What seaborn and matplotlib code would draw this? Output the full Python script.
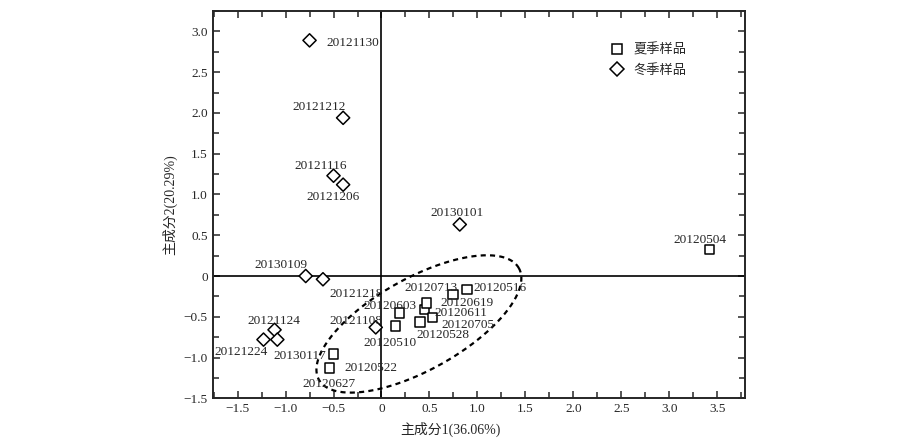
#!/usr/bin/env python3
"""PCA score plot: summer vs winter samples, with a dashed ellipse round the summer group."""

import matplotlib.pyplot as plt
import numpy as np
import pandas as pd
import seaborn as sns
from matplotlib.ticker import FuncFormatter, MultipleLocator

# ── DATA ──
summer_ids = [
    "20120504", "20120510", "20120516", "20120522", "20120528", "20120603",
    "20120611", "20120619", "20120627", "20120705", "20120713",
]
summer_pc1 = [3.42, 0.146, 0.893, -0.497, 0.40, 0.19, 0.448, 0.466, -0.539, 0.534, 0.747]
summer_pc2 = [0.325, -0.615, -0.164, -0.955, -0.566, -0.455, -0.413, -0.332, -1.127, -0.512, -0.225]

winter_ids = [
    "20121108", "20121116", "20121124", "20121130", "20121206", "20121212",
    "20121218", "20121224", "20130101", "20130109", "20130117",
]
winter_pc1 = [-0.06, -0.50, -1.115, -0.75, -0.40, -0.40, -0.61, -1.23, 0.816, -0.79, -1.086]
winter_pc2 = [-0.63, 1.23, -0.66, 2.89, 1.12, 1.94, -0.04, -0.78, 0.632, 0.0, -0.78]

season_names = ["夏季样品", "冬季样品"]

# dashed ellipse round the summer cluster: centre and two conjugate semi-axes (data units)
ellipse_center = (0.39, -0.588)
ellipse_u = (1.043, 0.683)
ellipse_v = (-0.231, 0.493)

# label placement relative to each point, in pixels (layout only)
label_offsets = {
    "20121130": (43, -3), "20121212": (-24, 11), "20121116": (-13, 10),
    "20121206": (-10, -12), "20130101": (-3, 11), "20130109": (-25, 11),
    "20121218": (33, -15), "20121108": (-20, 6), "20121124": (-1, 9),
    "20121224": (-22, -12), "20130117": (22, -16),
    "20120504": (-10, 10), "20120510": (-5, -17), "20120516": (33, 1),
    "20120522": (37, -14), "20120528": (23, -13), "20120603": (-10, 7),
    "20120611": (36, -3), "20120619": (41, 0), "20120627": (-1, -16),
    "20120705": (35, -7), "20120713": (-22, 6),
}

df = pd.DataFrame({
    "id": summer_ids + winter_ids,
    "pc1": summer_pc1 + winter_pc1,
    "pc2": summer_pc2 + winter_pc2,
    "season": [season_names[0]] * len(summer_ids) + [season_names[1]] * len(winter_ids),
})

# ── STYLE ──
sns.set_style("ticks")
plt.rcParams["font.family"] = ["Liberation Serif", "Noto Sans CJK SC"]
plt.rcParams["axes.unicode_minus"] = True
FS = 9.5

fig, ax = plt.subplots(figsize=(9, 4.44), dpi=100)
fig.subplots_adjust(left=0.2363, right=0.8278, top=0.9752, bottom=0.1029)

ax.axhline(0, color="black", lw=1.2, zorder=1)
ax.axvline(0, color="black", lw=1.2, zorder=1)

sns.scatterplot(
    data=df, x="pc1", y="pc2", style="season",
    markers={season_names[0]: "s", season_names[1]: "D"},
    style_order=season_names,
    s=45, color="white", edgecolor="black", linewidth=1.1,
    ax=ax, zorder=3,
)

# dashed ellipse
t = np.linspace(0, 2 * np.pi, 300)
ex = ellipse_center[0] + ellipse_u[0] * np.cos(t) + ellipse_v[0] * np.sin(t)
ey = ellipse_center[1] + ellipse_u[1] * np.cos(t) + ellipse_v[1] * np.sin(t)
ax.plot(ex, ey, color="black", lw=1.6, linestyle=(0, (2.3, 1.9)), zorder=2)

# point labels
for _, row in df.iterrows():
    dx, dy = label_offsets[row["id"]]
    ax.annotate(
        row["id"], (row["pc1"], row["pc2"]),
        xytext=(dx, dy), textcoords="offset pixels",
        ha="center", va="center", fontsize=FS, zorder=4,
    )

# ── AXES ──
ax.set_xlim(-1.76, 3.79)
ax.set_ylim(-1.5, 3.25)
ax.xaxis.set_major_locator(MultipleLocator(0.5))
ax.xaxis.set_minor_locator(MultipleLocator(0.25))
ax.yaxis.set_major_locator(MultipleLocator(0.5))
ax.yaxis.set_minor_locator(MultipleLocator(0.25))


def fmt(v, _pos):
    if abs(v) < 1e-9:
        return "0"
    return f"{v:.1f}".replace("-", "\u2212")


ax.xaxis.set_major_formatter(FuncFormatter(fmt))
ax.yaxis.set_major_formatter(FuncFormatter(fmt))
ax.tick_params(which="both", direction="in", top=True, right=True,
               labeltop=False, labelright=False, width=1.1, labelsize=FS)
ax.tick_params(which="major", length=5)
ax.tick_params(which="minor", length=4)
for spine in ax.spines.values():
    spine.set_visible(True)
    spine.set_linewidth(1.4)

ax.set_xlabel("主成分1(36.06%)", fontsize=FS + 0.5)
ax.set_ylabel("主成分2(20.29%)", fontsize=FS + 0.5)
ax.xaxis.set_label_coords(0.446, -0.062)
ax.yaxis.set_label_coords(-0.066, 0.5)

sns.move_legend(
    ax, "upper left", bbox_to_anchor=(0.737, 0.931), borderaxespad=0,
    frameon=False, title=None, fontsize=FS, handlelength=1.0,
    handletextpad=0.75, labelspacing=0.6,
)

fig.savefig("out.png", dpi=100)
plt.close(fig)
